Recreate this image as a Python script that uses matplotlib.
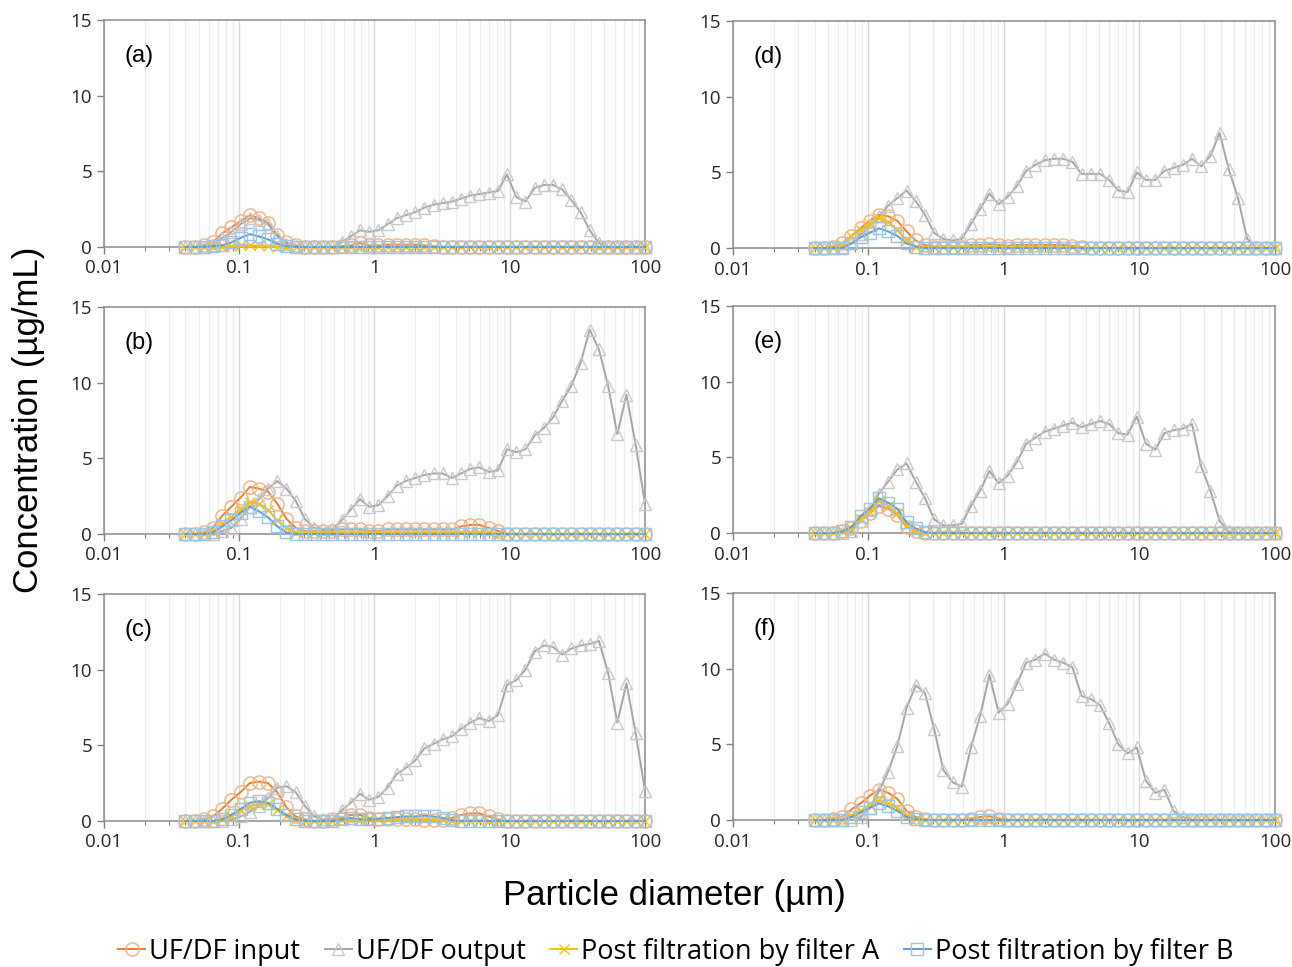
#!/usr/bin/env python3
"""
UF/DF 前後の粒子径分布 (a)-(f) の6パネル図
"""

import matplotlib
matplotlib.use('Agg')
import matplotlib.pyplot as plt
from matplotlib.ticker import LogLocator, FixedLocator, NullFormatter

# 粒子径 (µm) 51 チャンネル
diameter = [0.0400, 0.0468, 0.0547, 0.0639, 0.0748, 0.0874, 0.1022, 0.1195, 0.1398, 0.1634,
            0.1911, 0.2234, 0.2613, 0.3055, 0.3572, 0.4177, 0.4884, 0.5711, 0.6677, 0.7808,
            0.9129, 1.0675, 1.2482, 1.4595, 1.7066, 2.0000, 2.3386, 2.7345, 3.1975, 3.7388,
            4.3718, 5.112, 5.977, 6.989, 8.172, 9.556, 11.17, 13.07, 15.28, 17.87,
            20.89, 24.43, 28.56, 33.40, 39.05, 45.66, 53.39, 62.43, 73.00, 85.36,
            100.0]

# (a)
a_input = [0, 0, 0.1, 0.3, 0.9, 1.3, 1.7, 2.1, 1.9, 1.6,
           0.8, 0.3, 0.1, 0, 0, 0, 0, 0.05, 0.1, 0.25,
           0.1, 0.1, 0.15, 0.15, 0.15, 0.15, 0.1, 0.05, 0, 0,
           0, 0, 0, 0, 0, 0, 0, 0, 0, 0,
           0, 0, 0, 0, 0, 0, 0, 0, 0, 0,
           0]
a_output = [0, 0, 0, 0.1, 0.6, 1.0, 1.5, 1.9, 1.8, 1.5,
            0.7, 0.2, 0.05, 0, 0, 0, 0, 0.3, 0.7, 1.1,
            1.0, 1.1, 1.5, 1.9, 2.1, 2.3, 2.6, 2.8, 2.9, 3.0,
            3.2, 3.4, 3.5, 3.6, 3.7, 4.8, 3.3, 3.0, 3.9, 4.1,
            4.1, 3.8, 3.1, 2.3, 1.1, 0.25, 0, 0, 0, 0,
            0]
a_filterA = [0, 0, 0, 0, 0, 0.05, 0.1, 0.1, 0.1, 0.05,
             0, 0, 0, 0, 0, 0, 0, 0, 0, 0,
             0, 0, 0, 0, 0, 0, 0, 0, 0, 0,
             0, 0, 0, 0, 0, 0, 0, 0, 0, 0,
             0, 0, 0, 0, 0, 0, 0, 0, 0, 0,
             0]
a_filterB = [0, 0, 0, 0.05, 0.1, 0.3, 0.6, 0.85, 0.7, 0.5,
             0.2, 0.05, 0, 0, 0, 0, 0, 0, 0, 0,
             0, 0, 0, 0, 0, 0, 0, 0, 0, 0,
             0, 0, 0, 0, 0, 0, 0, 0, 0, 0,
             0, 0, 0, 0, 0, 0, 0, 0, 0, 0,
             0]

# (b)
b_input = [0, 0, 0.1, 0.4, 1.2, 1.8, 2.4, 3.1, 3.0, 2.8,
           2.0, 1.0, 0.4, 0.2, 0.2, 0.2, 0.2, 0.3, 0.3, 0.3,
           0.2, 0.2, 0.3, 0.3, 0.3, 0.3, 0.3, 0.3, 0.3, 0.3,
           0.5, 0.6, 0.6, 0.4, 0.2, 0, 0, 0, 0, 0,
           0, 0, 0, 0, 0, 0, 0, 0, 0, 0,
           0]
b_output = [0, 0, 0, 0, 0.2, 0.4, 1.0, 1.8, 2.3, 3.0,
            3.5, 3.0, 2.2, 1.0, 0.4, 0.3, 0.3, 0.9, 1.6, 2.3,
            1.8, 1.9, 2.5, 3.2, 3.5, 3.7, 3.9, 4.0, 4.0, 3.7,
            4.0, 4.3, 4.4, 4.1, 4.2, 5.6, 5.4, 5.6, 6.5, 7.0,
            7.7, 8.8, 9.8, 11.3, 13.5, 12.2, 9.8, 6.6, 9.2, 5.9,
            2.0]
b_filterA = [0, 0, 0, 0.2, 0.7, 1.1, 1.6, 2.1, 2.0, 1.6,
             0.9, 0.4, 0.1, 0.1, 0.1, 0.1, 0.1, 0.1, 0.1, 0.1,
             0.1, 0.1, 0.1, 0.1, 0.1, 0.1, 0.1, 0.1, 0.1, 0.1,
             0.1, 0.1, 0.1, 0.1, 0, 0, 0, 0, 0, 0,
             0, 0, 0, 0, 0, 0, 0, 0, 0, 0,
             0]
b_filterB = [0, 0, 0, 0.1, 0.5, 0.9, 1.4, 1.8, 1.5, 1.1,
             0.5, 0.1, 0, 0, 0, 0, 0, 0, 0, 0,
             0, 0, 0, 0, 0, 0, 0, 0, 0, 0,
             0, 0, 0, 0, 0, 0, 0, 0, 0, 0,
             0, 0, 0, 0, 0, 0, 0, 0, 0, 0,
             0]

# (c)
c_input = [0, 0, 0.1, 0.3, 0.8, 1.4, 1.9, 2.5, 2.6, 2.5,
           1.9, 0.9, 0.3, 0.1, 0, 0, 0.1, 0.2, 0.4, 0.4,
           0.2, 0.1, 0.1, 0.1, 0.1, 0.1, 0.05, 0.05, 0.05, 0.2,
           0.4, 0.5, 0.5, 0.3, 0.1, 0, 0, 0, 0, 0,
           0, 0, 0, 0, 0, 0, 0, 0, 0, 0,
           0]
c_output = [0, 0, 0, 0, 0, 0.1, 0.3, 0.6, 1.0, 1.5,
            2.2, 2.3, 1.9, 1.0, 0.3, 0.1, 0.1, 0.7, 1.2, 1.8,
            1.4, 1.6, 2.2, 3.1, 3.5, 4.0, 4.8, 5.1, 5.4, 5.6,
            6.1, 6.5, 6.8, 6.6, 7.0, 9.0, 9.3, 10.0, 11.2, 11.6,
            11.5, 11.0, 11.4, 11.6, 11.7, 11.9, 9.8, 6.5, 9.1, 5.8,
            2.0]
c_filterA = [0, 0, 0, 0, 0.1, 0.3, 0.7, 1.0, 1.1, 1.1,
             0.7, 0.3, 0.1, 0, 0, 0, 0, 0.1, 0.15, 0.1,
             0.1, 0.1, 0.1, 0.15, 0.15, 0.15, 0.15, 0.1, 0.05, 0,
             0, 0, 0, 0, 0, 0, 0, 0, 0, 0,
             0, 0, 0, 0, 0, 0, 0, 0, 0, 0,
             0]
c_filterB = [0, 0, 0, 0, 0.1, 0.4, 0.8, 1.2, 1.3, 1.2,
             0.8, 0.4, 0.1, 0, 0, 0, 0, 0.1, 0.2, 0.1,
             0.1, 0.15, 0.2, 0.25, 0.3, 0.3, 0.35, 0.3, 0.2, 0.05,
             0, 0, 0, 0, 0, 0, 0, 0, 0, 0,
             0, 0, 0, 0, 0, 0, 0, 0, 0, 0,
             0]

# (d)
d_input = [0, 0, 0.1, 0.3, 0.8, 1.3, 1.8, 2.2, 2.1, 1.8,
           1.1, 0.5, 0.2, 0.1, 0.1, 0.1, 0.1, 0.2, 0.2, 0.25,
           0.2, 0.15, 0.2, 0.2, 0.2, 0.2, 0.2, 0.2, 0.15, 0.05,
           0, 0, 0, 0, 0, 0, 0, 0, 0, 0,
           0, 0, 0, 0, 0, 0, 0, 0, 0, 0,
           0]
d_output = [0, 0, 0, 0.1, 0.3, 0.9, 1.5, 2.1, 2.8, 3.3,
            3.8, 3.1, 2.2, 1.0, 0.6, 0.5, 0.6, 1.6, 2.6, 3.6,
            2.9, 3.4, 4.1, 5.1, 5.5, 5.8, 5.9, 5.9, 5.7, 4.9,
            4.9, 4.9, 4.5, 3.8, 3.7, 5.0, 4.5, 4.5, 5.1, 5.3,
            5.5, 5.9, 5.4, 6.1, 7.6, 5.2, 3.3, 0.6, 0, 0,
            0]
d_filterA = [0, 0, 0, 0.2, 0.8, 1.2, 1.6, 2.0, 1.7, 1.2,
             0.5, 0.1, 0.05, 0.05, 0.05, 0.05, 0.05, 0.05, 0.05, 0.05,
             0.05, 0.05, 0.05, 0.05, 0.05, 0.05, 0.05, 0.05, 0.05, 0,
             0, 0, 0, 0, 0, 0, 0, 0, 0, 0,
             0, 0, 0, 0, 0, 0, 0, 0, 0, 0,
             0]
d_filterB = [0, 0, 0, 0, 0.3, 0.7, 1.0, 1.3, 1.1, 0.8,
             0.3, 0.1, 0, 0, 0, 0, 0, 0, 0, 0,
             0, 0, 0, 0, 0, 0, 0, 0, 0, 0,
             0, 0, 0, 0, 0, 0, 0, 0, 0, 0,
             0, 0, 0, 0, 0, 0, 0, 0, 0, 0,
             0]

# (e)
e_input = [0, 0, 0, 0.1, 0.3, 0.8, 1.3, 1.8, 1.6, 1.2,
           0.4, 0.1, 0, 0, 0, 0, 0, 0, 0, 0,
           0, 0, 0, 0, 0, 0, 0, 0, 0, 0,
           0, 0, 0, 0, 0, 0, 0, 0, 0, 0,
           0, 0, 0, 0, 0, 0, 0, 0, 0, 0,
           0]
e_output = [0, 0, 0, 0, 0.1, 0.8, 1.5, 2.6, 3.4, 4.2,
            4.6, 3.4, 2.3, 0.9, 0.5, 0.5, 0.6, 1.8, 2.8, 4.1,
            3.3, 3.8, 4.7, 5.9, 6.3, 6.7, 6.9, 7.1, 7.3, 7.0,
            7.2, 7.4, 7.2, 6.6, 6.5, 7.7, 5.9, 5.5, 6.6, 6.8,
            6.9, 7.2, 4.4, 2.8, 0.8, 0.1, 0, 0, 0, 0,
            0]
e_filterA = [0, 0, 0, 0.1, 0.3, 0.9, 1.4, 2.1, 1.8, 1.3,
             0.5, 0.1, 0, 0, 0, 0, 0, 0, 0, 0,
             0, 0, 0, 0, 0, 0, 0, 0, 0, 0,
             0, 0, 0, 0, 0, 0, 0, 0, 0, 0,
             0, 0, 0, 0, 0, 0, 0, 0, 0, 0,
             0]
e_filterB = [0, 0, 0, 0.1, 0.4, 1.1, 1.6, 2.3, 2.0, 1.6,
             0.7, 0.3, 0.05, 0, 0, 0, 0, 0, 0, 0,
             0, 0, 0, 0, 0, 0, 0, 0, 0, 0,
             0, 0, 0, 0, 0, 0, 0, 0, 0, 0,
             0, 0, 0, 0, 0, 0, 0, 0, 0, 0,
             0]

# (f)
f_input = [0, 0, 0.1, 0.2, 0.7, 1.1, 1.6, 2.0, 1.8, 1.4,
           0.6, 0.2, 0.05, 0, 0, 0, 0, 0.1, 0.2, 0.25,
           0.1, 0, 0, 0, 0, 0, 0, 0, 0, 0,
           0, 0, 0, 0, 0, 0, 0, 0, 0, 0,
           0, 0, 0, 0, 0, 0, 0, 0, 0, 0,
           0]
f_output = [0, 0, 0, 0, 0, 0.2, 0.8, 1.9, 3.2, 4.9,
            7.4, 8.9, 8.4, 6.0, 3.3, 2.5, 2.2, 4.8, 6.9, 9.6,
            7.1, 7.7, 9.0, 10.4, 10.6, 11.0, 10.6, 10.4, 10.1, 8.2,
            8.0, 7.6, 6.4, 5.0, 4.4, 4.8, 2.6, 1.8, 2.0, 0.6,
            0.2, 0, 0, 0, 0, 0, 0, 0, 0, 0,
            0]
f_filterA = [0, 0, 0, 0, 0.3, 0.6, 1.0, 1.3, 1.1, 0.8,
             0.3, 0.1, 0, 0, 0, 0, 0, 0, 0, 0,
             0, 0, 0, 0, 0, 0, 0, 0, 0, 0,
             0, 0, 0, 0, 0, 0, 0, 0, 0, 0,
             0, 0, 0, 0, 0, 0, 0, 0, 0, 0,
             0]
f_filterB = [0, 0, 0, 0, 0.2, 0.5, 0.8, 1.1, 0.9, 0.6,
             0.2, 0.05, 0, 0, 0, 0, 0, 0, 0, 0,
             0, 0, 0, 0, 0, 0, 0, 0, 0, 0,
             0, 0, 0, 0, 0, 0, 0, 0, 0, 0,
             0, 0, 0, 0, 0, 0, 0, 0, 0, 0,
             0]

series_names = ['UF/DF input', 'UF/DF output', 'Post filtration by filter A', 'Post filtration by filter B']
panel_labels = ['(a)', '(b)', '(c)', '(d)', '(e)', '(f)']

# 系列スタイル (線色, マーカー色, マーカー, サイズ)
styles = [
    ('#ED7D31', '#F4B183', 'o', 9.5),
    ('#A5A5A5', '#C9C9C9', '^', 9),
    ('#FFC000', '#FFC000', 'x', 6.5),
    ('#5B9BD5', '#9DC3E6', 's', 8.5),
]

# 軸位置 (figure 座標)
positions = [
    (0.0805, 0.7446, 0.4187, 0.2347),
    (0.0805, 0.4478, 0.4187, 0.2347),
    (0.0805, 0.1510, 0.4187, 0.2347),
    (0.5673, 0.7435, 0.4195, 0.2347),
    (0.5673, 0.4488, 0.4195, 0.2347),
    (0.5673, 0.1520, 0.4195, 0.2347),
]

panels = [
    (a_input, a_output, a_filterA, a_filterB),
    (b_input, b_output, b_filterA, b_filterB),
    (c_input, c_output, c_filterA, c_filterB),
    (d_input, d_output, d_filterA, d_filterB),
    (e_input, e_output, e_filterA, e_filterB),
    (f_input, f_output, f_filterA, f_filterB),
]


def draw_panel(ax, data, label):
    ax.set_xscale('log')
    ax.set_xlim(0.01, 100)
    ax.set_ylim(0, 15)

    # Excel 風の縦グリッド
    ax.xaxis.set_major_locator(FixedLocator([0.01, 0.1, 1, 10, 100]))
    ax.xaxis.set_minor_locator(LogLocator(base=10, subs=range(2, 10)))
    ax.xaxis.set_minor_formatter(NullFormatter())
    ax.grid(which='major', axis='x', color='#D9D9D9', linewidth=1.0, zorder=0)
    ax.grid(which='minor', axis='x', color='#EDEDED', linewidth=0.9, zorder=0)
    ax.set_axisbelow(True)

    for values, (lc, mc, mk, ms) in zip(data, styles):
        ax.plot(diameter, values, color=lc, linewidth=1.4, marker=mk, markersize=ms,
                markerfacecolor='none', markeredgecolor=mc, markeredgewidth=1.0,
                clip_on=False, zorder=3)

    ax.set_yticks([0, 5, 10, 15])
    ax.set_xticklabels(['0.01', '0.1', '1', '10', '100'])
    ax.tick_params(axis='both', which='major', labelsize=13.5, colors='#808080',
                   labelcolor='#262626', direction='out', length=5, width=1.0)
    ax.tick_params(axis='x', which='minor', direction='out', length=3, width=0.8, colors='#808080')
    ax.tick_params(axis='x', which='major', pad=4)
    for lab in ax.get_xticklabels() + ax.get_yticklabels():
        lab.set_fontfamily('Open Sans')

    for side in ['top', 'right', 'left', 'bottom']:
        ax.spines[side].set_color('#8C8C8C')
        ax.spines[side].set_linewidth(1.1)

    ax.text(0.038, 0.84, label, transform=ax.transAxes, fontsize=17,
            family='Liberation Sans', ha='left', va='center', color='black')


def main():
    fig = plt.figure(figsize=(12.92, 9.67), dpi=100, facecolor='white')

    axes = []
    for pos, data, label in zip(positions, panels, panel_labels):
        ax = fig.add_axes(pos)
        draw_panel(ax, data, label)
        axes.append(ax)

    fig.text(0.022, 0.566, 'Concentration (µg/mL)', rotation=90, ha='center', va='center',
             fontsize=25, family='Liberation Sans')
    fig.text(0.522, 0.074, 'Particle diameter (µm)', ha='center', va='center',
             fontsize=25, family='Liberation Sans')

    handles = axes[0].get_lines()
    fig.legend(handles, series_names, loc='center', bbox_to_anchor=(0.523, 0.016), ncol=4,
               frameon=False, handlelength=1.0, handletextpad=0.15, columnspacing=0.9,
               prop={'family': 'Open Sans', 'size': 19.5})

    plt.savefig('out.png', dpi=100, facecolor='white')
    plt.close()


if __name__ == "__main__":
    main()
